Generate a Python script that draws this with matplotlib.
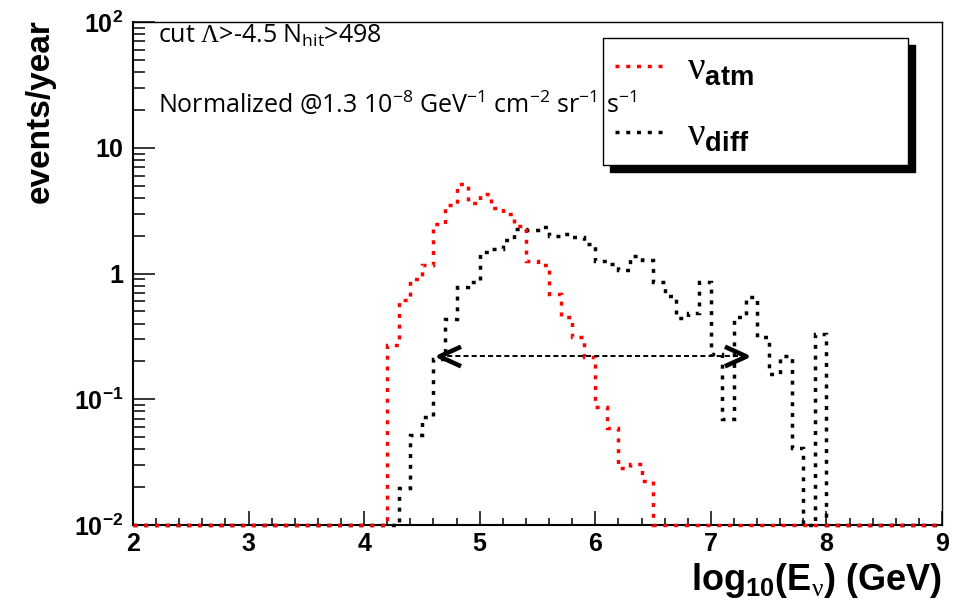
import numpy as np
import matplotlib
matplotlib.use("Agg")
import matplotlib.pyplot as plt
from matplotlib.path import Path
from matplotlib.ticker import MultipleLocator, FixedLocator, FuncFormatter, LogLocator, NullFormatter

plt.rcParams['mathtext.fontset'] = 'custom'
plt.rcParams['mathtext.rm'] = 'Liberation Sans:bold'
plt.rcParams['mathtext.it'] = 'Liberation Sans:bold'
plt.rcParams['mathtext.bf'] = 'Liberation Sans:bold'
plt.rcParams['mathtext.sf'] = 'Liberation Serif'
plt.rcParams['mathtext.tt'] = 'Open Sans'

# histogram binning in log10(E/GeV)
x_min, x_max, bin_width = 2.0, 9.0, 0.1

# atmospheric neutrinos, first non-empty bin starts at 4.2
atm_start = 4.2
atm_counts = [0.27, 0.61, 0.91, 1.16, 2.49, 3.48, 5.19, 3.63, 4.26, 3.33,
              2.99, 2.37, 1.25, 1.16, 0.69, 0.449, 0.311, 0.215, 0.086,
              0.0596, 0.0286, 0.0304, 0.0224]

# diffuse flux, first non-empty bin starts at 4.3
diff_start = 4.3
diff_counts = [0.0198, 0.052, 0.0716, 0.209, 0.435, 0.778, 0.853, 1.48, 1.57,
               1.83, 2.27, 2.2, 2.34, 1.97, 2.07, 1.95, 1.72, 1.25, 1.19, 1.06,
               1.39, 1.27, 0.853, 0.668, 0.444, 0.483, 0.863, 0.229, 0.0695,
               0.449, 0.656, 0.311, 0.159, 0.222, 0.0413, 0.0, 0.331]

# energy range arrow
arrow_span = [4.65, 7.30]
arrow_level = 0.222

y_min, y_max = 0.01, 100.0

n_bins = int(round((x_max - x_min) / bin_width))
edges = x_min + bin_width * np.arange(n_bins + 1)


def fill_hist(start, counts):
    h = np.zeros(n_bins)
    i0 = int(round((start - x_min) / bin_width))
    h[i0:i0 + len(counts)] = counts
    # ROOT draws empty bins on the frame minimum
    return np.maximum(h, y_min)


atm = fill_hist(atm_start, atm_counts)
diff = fill_hist(diff_start, diff_counts)

fig = plt.figure(figsize=(9.62, 6.11), dpi=100)
ax = fig.add_axes([133 / 962, 1 - 525 / 611, 809 / 962, 503 / 611])

dots = (0, (1.15, 1.95))
h_diff = ax.stairs(diff, edges, baseline=None, color='black', lw=2.5,
                   linestyle=dots, clip_on=False, zorder=3)
h_atm = ax.stairs(atm, edges, baseline=None, color='red', lw=2.5,
                  linestyle=dots, clip_on=False, zorder=4)

# double arrow with open heads
ax.plot(arrow_span, [arrow_level, arrow_level], color='black', lw=1.4,
        linestyle=(0, (2.6, 1.6)), zorder=5)
left_head = Path([(2.2, 1.0), (0.0, 0.0), (2.2, -1.0)])
right_head = Path([(-2.2, 1.0), (0.0, 0.0), (-2.2, -1.0)])
ax.plot(arrow_span[0], arrow_level, marker=left_head, ms=31, mew=3.3,
        mfc='none', mec='black', zorder=6)
ax.plot(arrow_span[1], arrow_level, marker=right_head, ms=31, mew=3.3,
        mfc='none', mec='black', zorder=6)

ax.set_xlim(x_min, x_max)
ax.set_yscale('log')
ax.set_ylim(y_min, y_max)

ax.xaxis.set_major_locator(MultipleLocator(1))
ax.xaxis.set_minor_locator(MultipleLocator(0.2))
ax.yaxis.set_major_locator(FixedLocator([0.01, 0.1, 1, 10, 100]))
ax.yaxis.set_minor_locator(LogLocator(base=10, subs=np.arange(2, 10)))
ax.yaxis.set_minor_formatter(NullFormatter())

ylabels = {0.01: r'$10^{-2}$', 0.1: r'$10^{-1}$', 1: '1', 10: '10', 100: r'$10^{2}$'}
ax.yaxis.set_major_formatter(FuncFormatter(
    lambda v, p: ylabels.get(round(v, 2), '')))

ax.tick_params(which='both', direction='in', top=False, right=False, width=1.1)
ax.tick_params(axis='x', which='major', length=10, pad=5)
ax.tick_params(axis='x', which='minor', length=5)
ax.tick_params(axis='y', which='major', length=16, pad=7)
ax.tick_params(axis='y', which='minor', length=8.5)
for lab in ax.get_xticklabels() + ax.get_yticklabels():
    lab.set_fontfamily('Liberation Sans')
    lab.set_fontweight('bold')
    lab.set_fontsize(18)
for side in ['left', 'bottom']:
    ax.spines[side].set_linewidth(1.5)
for side in ['top', 'right']:
    ax.spines[side].set_linewidth(1.0)

fig.text(40 / 962, 1 - 111 / 611, 'events/year', rotation=90, ha='center',
         va='center', fontsize=24, fontweight='bold', family='Liberation Sans')
fig.text(942 / 962, 1 - 590 / 611, r'log$_{10}$(E$_{\mathsf{\nu}}$) (GeV)',
         ha='right', va='baseline', fontsize=26, fontweight='bold',
         family='Liberation Sans')

leg = ax.legend([h_atm, h_diff],
                [r'$\mathsf{\nu}_{\mathbf{atm}}$', r'$\mathsf{\nu}_{\mathbf{diff}}$'],
                loc='upper left', bbox_to_anchor=(0.581, 0.716, 0.377, 0.252),
                bbox_transform=ax.transAxes, mode='expand', fontsize=28,
                fancybox=False, edgecolor='black', framealpha=1,
                shadow={'color': 'black', 'alpha': 1, 'ox': 5, 'oy': -5},
                handlelength=1.23, handletextpad=0.64, borderpad=0.3,
                labelspacing=0.7, borderaxespad=0)
leg.get_frame().set_linewidth(1.0)

ax.text(0.031, 0.958, r'cut $\mathsf{\Lambda}$>-4.5 N$_{\mathtt{hit}}$>498',
        transform=ax.transAxes, ha='left', va='baseline', fontsize=18,
        family=['Open Sans', 'DejaVu Sans'], zorder=7)
ax.text(0.031, 0.819,
        r'Normalized @1.3 10$^{\mathtt{-8}}$ GeV$^{\mathtt{-1}}$ cm$^{\mathtt{-2}}$'
        r' sr$^{\mathtt{-1}}$ s$^{\mathtt{-1}}$',
        transform=ax.transAxes, ha='left', va='baseline', fontsize=18,
        family=['Open Sans', 'DejaVu Sans'], zorder=7)

fig.savefig('out.png', dpi=100)
